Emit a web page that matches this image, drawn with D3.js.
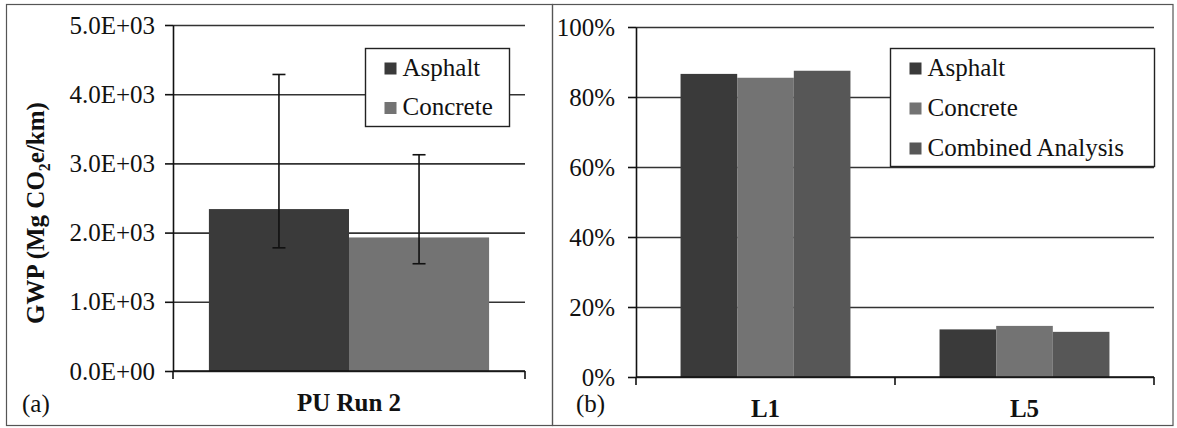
<!DOCTYPE html>
<html>
<head>
<meta charset="utf-8">
<script src="https://cdn.jsdelivr.net/npm/d3@7"></script>
<style>
    body { margin: 0; background: #fff; }
    text { font-family: "Liberation Serif", "Times New Roman", serif; fill: #111; }
</style>
</head>
<body>
<div id="chart"></div>
<script>
// (a) GWP per km, PU Run 2
const gwpCategories = ["PU Run 2"];
const gwpSeries = ["Asphalt", "Concrete"];
const gwpMean = [2340, 1930];
const gwpLow = [1780, 1550];
const gwpHigh = [4285, 3125];
const gwpTicks = [0, 1000, 2000, 3000, 4000, 5000];

// (b) share by level
const levelCategories = ["L1", "L5"];
const levelSeries = ["Asphalt", "Concrete", "Combined Analysis"];
const levelL1 = [0.866, 0.855, 0.875];
const levelL5 = [0.136, 0.146, 0.129];
const levelTicks = [0, 0.2, 0.4, 0.6, 0.8, 1.0];

const fills = { "Asphalt": "#3a3a3a", "Concrete": "#737373", "Combined Analysis": "#575757" };

const width = 1177, height = 428;
const svg = d3.select("#chart").append("svg")
    .attr("width", width)
    .attr("height", height);

svg.append("rect").attr("width", width).attr("height", height).attr("fill", "#fff");

// panel frames
svg.append("rect")
    .attr("x", 6.5).attr("y", 4.5).attr("width", 546).attr("height", 421)
    .attr("fill", "none").attr("stroke", "#555").attr("stroke-width", 1.2);
svg.append("rect")
    .attr("x", 552.5).attr("y", 4.5).attr("width", 620.5).attr("height", 421)
    .attr("fill", "none").attr("stroke", "#555").attr("stroke-width", 1.2);

function expLabel(v) {
    const [m, e] = v.toExponential(1).split("e");
    const n = Math.abs(+e);
    return m.toUpperCase() + "E" + (+e < 0 ? "-" : "+") + (n < 10 ? "0" + n : n);
}

function drawPanel(cfg) {
    const { left, right, top, bottom } = cfg.box;
    const g = svg.append("g");

    const y = d3.scaleLinear().domain(cfg.domain).range([bottom, top]);
    const x0 = d3.scaleBand().domain(cfg.categories).range([left, right]);
    const bw = x0.bandwidth();
    const x1 = d3.scaleBand().domain(cfg.series)
        .range([bw * cfg.groupPad, bw * (1 - cfg.groupPad)]);

    // gridlines
    g.append("g")
        .attr("transform", `translate(${left},0)`)
        .call(d3.axisLeft(y).tickValues(cfg.ticks).tickSize(-(right - left)).tickFormat(""))
        .call(s => s.select(".domain").remove())
        .selectAll("line").attr("stroke", "#333").attr("stroke-width", 1.6);

    // bars
    cfg.categories.forEach((cat, ci) => {
        const gg = g.append("g").attr("transform", `translate(${x0(cat)},0)`);
        gg.selectAll("rect")
            .data(cfg.series.map((s, si) => ({ s, v: cfg.values[ci][si] })))
            .enter()
            .append("rect")
            .attr("x", d => x1(d.s))
            .attr("width", x1.bandwidth())
            .attr("y", d => y(d.v))
            .attr("height", d => bottom - y(d.v))
            .attr("fill", d => fills[d.s]);
    });

    // error bars
    if (cfg.errors) {
        cfg.categories.forEach((cat, ci) => {
            cfg.series.forEach((s, si) => {
                const cx = x0(cat) + x1(s) + x1.bandwidth() / 2;
                const lo = y(cfg.errors.low[si]), hi = y(cfg.errors.high[si]);
                g.append("line").attr("x1", cx).attr("x2", cx).attr("y1", lo).attr("y2", hi)
                    .attr("stroke", "#111").attr("stroke-width", 1.6);
                [lo, hi].forEach(yy => {
                    g.append("line").attr("x1", cx - 6.5).attr("x2", cx + 6.5)
                        .attr("y1", yy).attr("y2", yy)
                        .attr("stroke", "#111").attr("stroke-width", 1.6);
                });
            });
        });
    }

    // y axis
    const ya = g.append("g")
        .attr("transform", `translate(${left},0)`)
        .call(d3.axisLeft(y).tickValues(cfg.ticks).tickSize(8).tickSizeOuter(0)
            .tickPadding(cfg.tickPad).tickFormat(cfg.format));
    ya.attr("font-family", null);
    ya.select(".domain").attr("stroke", "#111").attr("stroke-width", 1.6);
    ya.selectAll("line").attr("stroke", "#111").attr("stroke-width", 1.6);
    ya.selectAll("text").style("font-size", "25px").attr("fill", "#111");

    // x axis: line, boundary ticks, labels
    const edges = cfg.categories.map(c => x0(c)).concat([right]);
    g.append("line").attr("x1", left).attr("x2", right).attr("y1", bottom).attr("y2", bottom)
        .attr("stroke", "#111").attr("stroke-width", 1.6);
    g.selectAll(".xedge").data(edges).enter().append("line")
        .attr("x1", d => d).attr("x2", d => d)
        .attr("y1", bottom).attr("y2", bottom + 8)
        .attr("stroke", "#111").attr("stroke-width", 1.6);
    const xa = g.append("g")
        .attr("transform", `translate(0,${bottom})`)
        .call(d3.axisBottom(x0).tickSize(0).tickPadding(22));
    xa.attr("font-family", null);
    xa.select(".domain").remove();
    xa.selectAll("text").style("font-size", "25px").style("font-weight", "bold").attr("fill", "#111");

    // panel tag
    g.append("text").attr("x", cfg.tagX).attr("y", 412)
        .style("font-size", "25px").text(cfg.tag);

    // legend
    const L = cfg.legend;
    g.append("rect").attr("x", L.x).attr("y", L.y).attr("width", L.w).attr("height", L.h)
        .attr("fill", "#fff").attr("stroke", "#222").attr("stroke-width", 1.4);
    const items = g.selectAll(".leg").data(cfg.series).enter().append("g")
        .attr("transform", (d, i) => `translate(${L.x + 19},${L.y + 27 + i * L.step})`);
    items.append("rect").attr("x", 0).attr("y", -13).attr("width", 12).attr("height", 12)
        .attr("fill", d => fills[d]);
    items.append("text").attr("x", 18).attr("y", 0)
        .style("font-size", "25px").text(d => d);

    return { g, x0, y };
}

// panel (a)
drawPanel({
    box: { left: 173, right: 525, top: 25, bottom: 371 },
    domain: [0, 5000],
    ticks: gwpTicks,
    format: expLabel,
    tickPad: 10,
    categories: gwpCategories,
    series: gwpSeries,
    values: [gwpMean],
    errors: { low: gwpLow, high: gwpHigh },
    groupPad: 0.102,
    tag: "(a)",
    tagX: 22,
    legend: { x: 365.5, y: 48.5, w: 144, h: 78, step: 39.5 }
});

// y title for (a)
const title = svg.append("text")
    .attr("transform", "translate(44,213) rotate(-90)")
    .attr("text-anchor", "middle")
    .style("font-size", "25px")
    .style("font-weight", "bold");
title.append("tspan").text("GWP (Mg CO");
title.append("tspan").attr("dy", 6).style("font-size", "16px").text("2");
title.append("tspan").attr("dy", -6).text("e/km)");

// panel (b)
drawPanel({
    box: { left: 636, right: 1154, top: 27, bottom: 377 },
    domain: [0, 1],
    ticks: levelTicks,
    format: d3.format(".0%"),
    tickPad: 13,
    categories: levelCategories,
    series: levelSeries,
    values: [levelL1, levelL5],
    groupPad: 0.172,
    tag: "(b)",
    tagX: 576,
    legend: { x: 890.5, y: 48.5, w: 264, h: 118, step: 40 }
});
</script>
</body>
</html>
